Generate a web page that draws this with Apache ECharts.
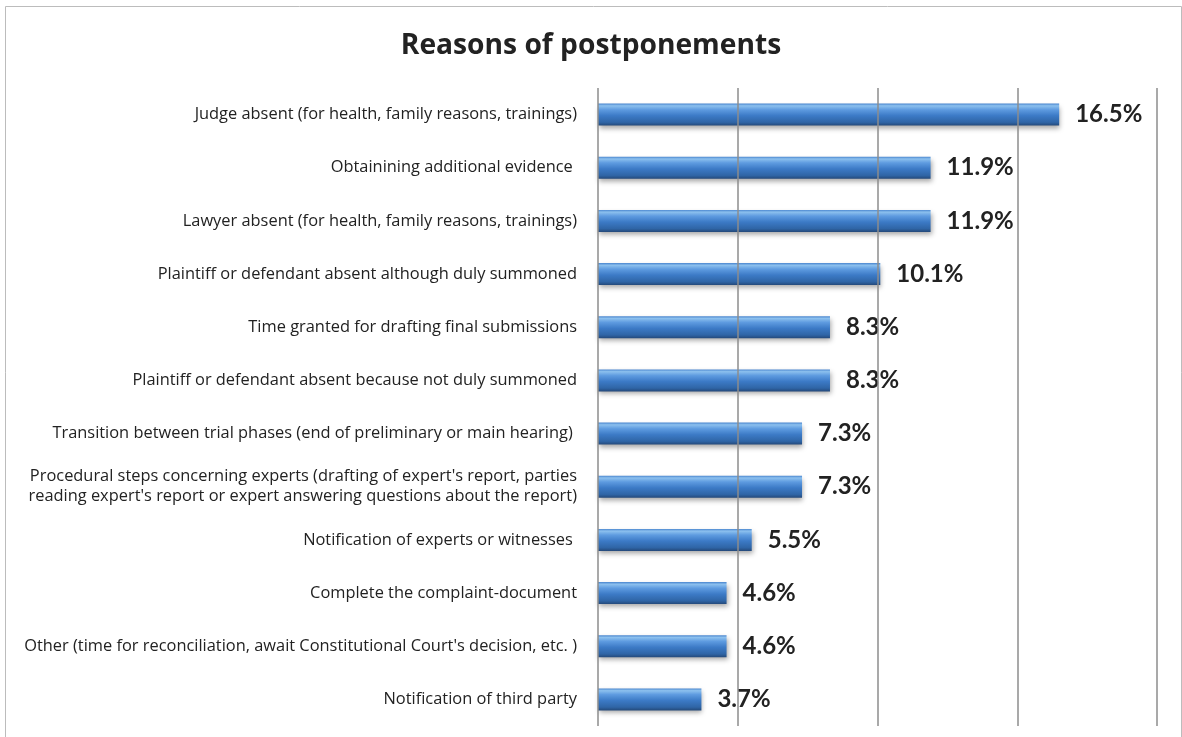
<!DOCTYPE html>
<html>
<head>
<meta charset="utf-8">
<script src="https://cdn.jsdelivr.net/npm/echarts@6/dist/echarts.min.js"></script>
<style>
html,body{margin:0;padding:0;background:#fff;}
#chart{width:1182px;height:737px;}
</style>
</head>
<body>
<div id="chart"></div>
<script>
const titleText = "Reasons of postponements";
const categories = [
  "Judge absent (for health, family reasons, trainings)",
  "Obtainining additional evidence ",
  "Lawyer absent (for health, family reasons, trainings)",
  "Plaintiff or defendant absent although duly summoned",
  "Time granted for drafting final submissions",
  "Plaintiff or defendant absent because not duly summoned",
  "Transition between trial phases (end of preliminary or main hearing) ",
  "Procedural steps concerning experts (drafting of expert's report, parties\nreading expert's report or expert answering questions about the report)",
  "Notification of experts or witnesses ",
  "Complete the complaint-document",
  "Other (time for reconciliation, await Constitutional Court's decision, etc. )",
  "Notification of third party"
];
const values = [16.5, 11.9, 11.9, 10.1, 8.3, 8.3, 7.3, 7.3, 5.5, 4.6, 4.6, 3.7];
const axisMin = 0, axisMax = 20, axisStep = 5;

const chart = echarts.init(document.getElementById('chart'));
chart.setOption({
  backgroundColor: '#fff',
  animation: false,
  title: {
    text: titleText,
    left: 'center',
    top: 27,
    textStyle: {fontFamily: 'Open Sans', fontWeight: 'bold', fontSize: 28.2, color: '#222'}
  },
  graphic: [{
    type: 'rect',
    shape: {x: 5.5, y: 6.5, width: 1176, height: 740},
    style: {fill: 'none', stroke: '#bcbcbc', lineWidth: 1},
    silent: true, z: -10
  }],
  grid: {left: 598, right: 25, top: 88, bottom: 11, containLabel: false},
  xAxis: {
    type: 'value', min: axisMin, max: axisMax, interval: axisStep,
    z: 5,
    axisLabel: {show: false},
    axisTick: {show: false},
    axisLine: {show: false},
    splitLine: {show: true, lineStyle: {color: '#8c8c8c', width: 1.5}}
  },
  yAxis: {
    type: 'category', data: categories, inverse: true,
    axisLine: {show: false},
    axisTick: {show: false},
    axisLabel: {
      margin: 21, fontFamily: 'Open Sans', fontSize: 16.4, color: '#222', align: 'right', lineHeight: 20
    }
  },
  series: [{
    type: 'bar',
    data: values,
    barWidth: 22,
    itemStyle: {
      color: new echarts.graphic.LinearGradient(0, 0, 0, 1, [
        {offset: 0, color: '#4a86cf'},
        {offset: 0.1, color: '#8cc0ee'},
        {offset: 0.28, color: '#5e9be0'},
        {offset: 0.55, color: '#3c7ac6'},
        {offset: 0.85, color: '#2f65a6'},
        {offset: 1, color: '#24497a'}
      ]),
      shadowColor: 'rgba(0,0,0,0.35)',
      shadowBlur: 5,
      shadowOffsetY: 3,
      shadowOffsetX: 1
    },
    label: {
      show: true, position: 'right', distance: 16,
      formatter: p => p.value.toFixed(1) + '%',
      fontFamily: 'Lato', fontWeight: 'bold', fontSize: 24, color: '#222'
    }
  }]
});
</script>
</body>
</html>
